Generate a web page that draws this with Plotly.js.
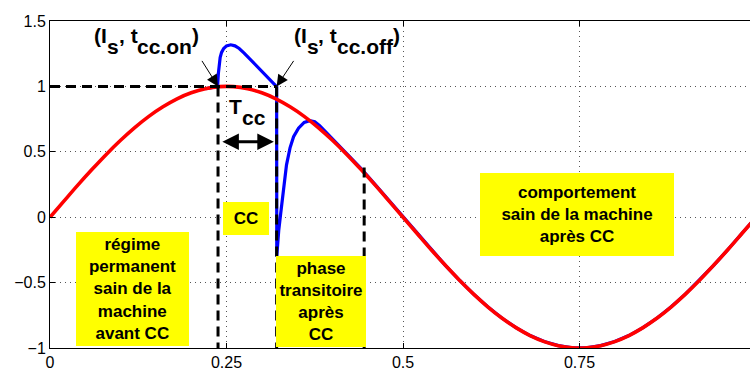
<!DOCTYPE html>
<html>
<head>
<meta charset="utf-8">
<script src="https://cdn.plot.ly/plotly-3.0.1.min.js"></script>
<style>
html,body{margin:0;padding:0;overflow:hidden;background:#fff;}
#chart{width:756px;height:372px;}
</style>
</head>
<body>
<div id="chart"></div>
<script>
// Healthy sinusoidal current (red)
const sineX = [0,0.02,0.04,0.06,0.08,0.10,0.12,0.14,0.16,0.18,0.20,0.22,0.24,0.26,0.28,0.30,0.32,0.34,0.36,0.38,0.40,0.42,0.44,0.46,0.48,0.50,0.52,0.54,0.56,0.58,0.60,0.62,0.64,0.66,0.68,0.70,0.72,0.74,0.76,0.78,0.80,0.82,0.84,0.86,0.88,0.90,0.92,0.94,0.96,0.98,1.00];
const sineY = [0,0.125,0.249,0.368,0.482,0.588,0.685,0.771,0.844,0.905,0.951,0.982,0.998,0.998,0.982,0.951,0.905,0.844,0.771,0.685,0.588,0.482,0.368,0.249,0.125,0,-0.125,-0.249,-0.368,-0.482,-0.588,-0.685,-0.771,-0.844,-0.905,-0.951,-0.982,-0.998,-0.998,-0.982,-0.951,-0.905,-0.844,-0.771,-0.685,-0.588,-0.482,-0.368,-0.249,-0.125,0];

// Faulted current (blue)
const faultX = [0.22,0.2373,0.2385,0.2395,0.241,0.243,0.246,0.250,0.256,0.262,0.268,0.275,0.285,0.297,0.309,0.321,0.3212,0.3225,0.324,0.3268,0.330,0.335,0.340,0.345,0.352,0.360,0.368,0.375,0.382,0.40,0.42,0.44,0.46,0.48,0.50,0.52,0.54,0.56,0.58,0.60,0.62,0.64,0.66,0.68,0.70,0.72,0.74,0.76,0.78,0.80,0.82,0.84,0.86,0.88,0.90,0.92,0.94,0.96,0.98,1.00];
const faultY = [0.982,0.998,1.10,1.16,1.22,1.26,1.29,1.31,1.318,1.31,1.29,1.255,1.20,1.13,1.065,0.998,-0.30,-0.20,-0.10,0.03,0.17,0.40,0.53,0.615,0.68,0.725,0.738,0.73,0.70,0.60,0.49,0.375,0.253,0.127,0.001,-0.125,-0.249,-0.368,-0.482,-0.588,-0.685,-0.771,-0.844,-0.905,-0.951,-0.982,-0.998,-0.998,-0.982,-0.951,-0.905,-0.844,-0.771,-0.685,-0.588,-0.482,-0.368,-0.249,-0.125,0];

// Event instants / levels
const tOn = 0.238, tOff = 0.321, tEnd = 0.445;
const Is = 1, yMin = -1, yEndTop = 0.38;

const xTicks = [0,0.25,0.5,0.75];
const xTickText = ['0','0.25','0.5','0.75'];
const yTicks = [-1,-0.5,0,0.5,1,1.5];
const yTickText = ['\u22121','\u22120.5','0','0.5','1','1.5'];

const boxTexts = [
  'régime<br>permanent<br>sain de la<br>machine<br>avant CC',
  'CC',
  'phase<br>transitoire<br>après<br>CC',
  'comportement<br>sain de la machine<br>après CC'
];

// Label pieces: [text, isSubscript]
const labelOn  = [['(I',0],['s',1],[', t',0],['cc.on',1],[')',0]];
const labelOff = [['(I',0],['s',1],[', t',0],['cc.off',1],[')',0]];
const labelT   = [['T',0],['cc',1]];

const FONT = 'Liberation Sans, Arial, Helvetica, sans-serif';
const BIG = 21;
const dashLine = {color:'black', width:3, dash:'10px,6px'};

const traces = [
  {x:faultX, y:faultY, mode:'lines', line:{color:'#0000ff', width:3.2}, hoverinfo:'skip'},
  {x:sineX, y:sineY, mode:'lines', line:{color:'#ff0000', width:3.6, shape:'spline'}, hoverinfo:'skip'},
  {x:[0,tOff], y:[Is,Is], mode:'lines', line:dashLine, hoverinfo:'skip'},
  {x:[tOn,tOn], y:[Is,yMin], mode:'lines', line:dashLine, hoverinfo:'skip'},
  {x:[tOff,tOff], y:[Is,yMin], mode:'lines', line:dashLine, hoverinfo:'skip'},
  {x:[tEnd,tEnd], y:[yEndTop,yMin], mode:'lines', line:dashLine, hoverinfo:'skip'}
];

function box(text, x, y, w, h){
  return {x:x, y:y, xref:'x', yref:'y', text:'<b>'+text+'</b>', showarrow:false,
    bgcolor:'#ffff00', width:w, height:h, borderpad:0, borderwidth:0,
    align:'center', valign:'middle', font:{family:FONT, size:17, color:'black'}};
}

const cv = document.createElement('canvas').getContext('2d');
cv.font = 'bold ' + BIG + 'px "Liberation Sans", Arial, sans-serif';
function pieces(parts, x0, y0, subDrop){
  const out = [];
  let shift = 0;
  parts.forEach(function(p){
    out.push({x:x0, y:y0, xref:'x', yref:'y', xanchor:'left', yanchor:'middle',
      xshift:shift, yshift:p[1] ? -subDrop : 0, showarrow:false, borderpad:0,
      text:'<b>'+p[0]+'</b>', font:{family:FONT, size:BIG, color:'black'}});
    shift += cv.measureText(p[0]).width;
  });
  return out;
}

let annotations = [
  box(boxTexts[0], 0.117, -0.549, 113, 114),
  box(boxTexts[1], 0.278, -0.01, 46, 33),
  box(boxTexts[2], 0.384, -0.641, 90, 91),
  box(boxTexts[3], 0.747, 0.021, 194, 83),
  {x:tOn, y:Is, xref:'x', yref:'y', text:'', showarrow:true, ax:-17, ay:-27,
   arrowhead:2, arrowsize:2.3, arrowwidth:1, arrowcolor:'black', standoff:0},
  {x:tOff, y:Is, xref:'x', yref:'y', text:'', showarrow:true, ax:18, ay:-27,
   arrowhead:2, arrowsize:2.3, arrowwidth:1, arrowcolor:'black', standoff:0},
  {x:tOff-0.004, y:0.577, xref:'x', yref:'y', axref:'x', ayref:'y', ax:tOn+0.004, ay:0.577,
   text:'', showarrow:true, arrowside:'end+start', arrowhead:2, arrowsize:1.1, arrowwidth:3, arrowcolor:'black'}
];
annotations = annotations.concat(
  pieces(labelOn, 0.0609, 1.389, 11),
  pieces(labelOff, 0.344, 1.389, 11),
  pieces(labelT, 0.252, 0.850, 11)
);

const axisCommon = {
  ticks:'inside', ticklen:5, tickwidth:1, tickcolor:'black',
  showline:true, linecolor:'black', linewidth:1, mirror:'ticks',
  showgrid:true, gridcolor:'#555', gridwidth:1, griddash:'1px,4px',
  zeroline:false, tickfont:{family:FONT, size:16, color:'black'}
};

const layout = {
  width:756, height:372,
  margin:{l:50, r:0, t:21, b:24},
  paper_bgcolor:'white', plot_bgcolor:'white',
  showlegend:false,
  xaxis:Object.assign({}, axisCommon, {range:[0,1], tickvals:xTicks, ticktext:xTickText}),
  yaxis:Object.assign({}, axisCommon, {range:[-1,1.5], tickvals:yTicks, ticktext:yTickText}),
  annotations:annotations
};

Plotly.newPlot('chart', traces, layout, {staticPlot:true, displayModeBar:false});
</script>
</body>
</html>
